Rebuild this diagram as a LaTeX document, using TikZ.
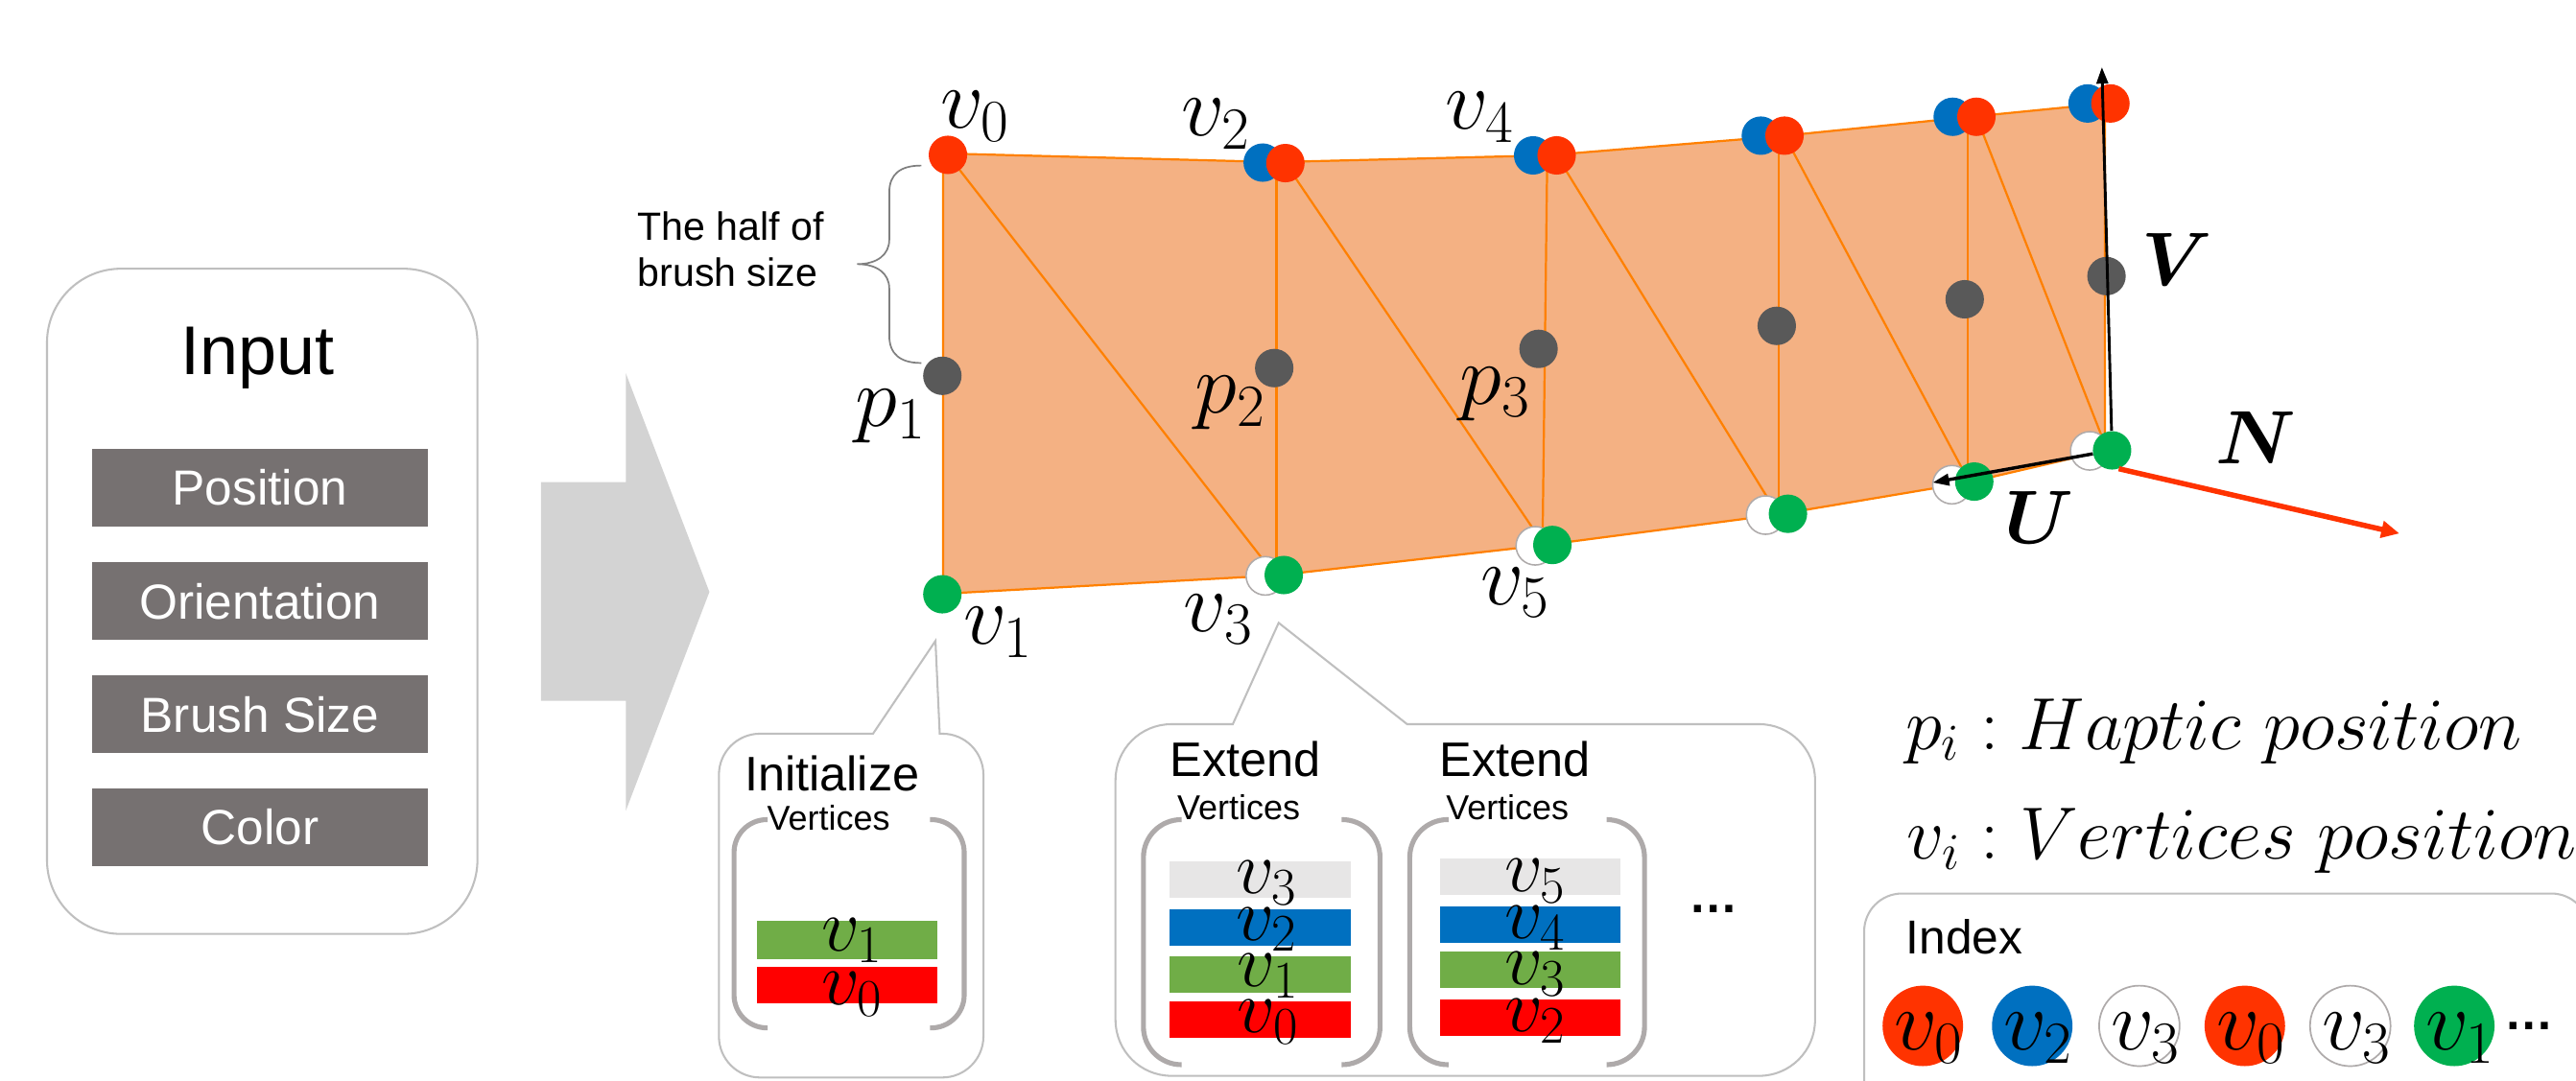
\RequirePackage{fix-cm}
\documentclass[tikz,border=0pt]{standalone}
\usepackage{amsmath}
\usepackage{fontspec}
\newfontfamily\arial{Liberation Sans}
\usetikzlibrary{arrows.meta}
\definecolor{cRed}{HTML}{FF3300}
\definecolor{cBlue}{HTML}{0070C0}
\definecolor{cGreen}{HTML}{00B050}
\definecolor{cGray}{HTML}{595959}
\definecolor{cWEdge}{HTML}{AFABAB}
\definecolor{cMesh}{HTML}{F4B183}
\definecolor{cOrange}{HTML}{FF8000}
\definecolor{cBar}{HTML}{767171}
\definecolor{cArrow}{HTML}{D3D3D3}
\definecolor{cBox}{HTML}{BFBFBF}
\definecolor{cBracket}{HTML}{AEAAAA}
\definecolor{cBrace}{HTML}{7F7F7F}
\definecolor{sGreen}{HTML}{70AD47}
\definecolor{sRed}{HTML}{FF0000}
\definecolor{sBlue}{HTML}{0070C0}
\definecolor{sGray}{HTML}{E7E6E6}
\begin{document}
\begin{tikzpicture}[x=1pt,y=-1pt,
  vdot/.style={circle,inner sep=0pt,minimum size=23.4pt},
  rdot/.style={vdot,fill=cRed},
  bdot/.style={vdot,fill=cBlue},
  gdot/.style={vdot,fill=cGreen},
  kdot/.style={vdot,fill=cGray},
  wdot/.style={vdot,fill=white,draw=cWEdge,line width=0.9pt},
  meshline/.style={draw=cOrange,line width=1.3pt,line join=round},
  mlbl/.style={inner sep=0pt,anchor=base west,font=\fontsize{52}{54}\selectfont},
  slbl/.style={inner sep=0pt,anchor=base west,font=\fontsize{46}{48}\selectfont},
  blbl/.style={inner sep=0pt,anchor=base west,font=\fontsize{46}{48}\selectfont},
  sanslbl/.style={inner sep=0pt,anchor=base west},
  inbar/.style={fill=cBar,text=white,inner sep=0pt,minimum width=204.4pt,minimum height=47.5pt,font=\arial\fontsize{30}{32}\selectfont},
  sbar/.style={inner sep=0pt,minimum width=110pt,minimum height=22.4pt},
  bubble/.style={draw=cBox,line width=1.2pt,fill=white},
  bracket/.style={draw=cBracket,line width=3pt},
  vec/.style={line width=1.7pt,-{Triangle[length=10pt,width=7pt]}},
  icirc/.style={circle,inner sep=0pt,minimum size=49pt},
  dotsl/.style={inner sep=0pt,font=\arial\bfseries\fontsize{30}{32}\selectfont},
]
\fill[white] (0,0) rectangle (1568,658);
\useasboundingbox (0,0) rectangle (1568,658);
\clip (0,0) rectangle (1568,658);

% ---------- Input box ----------
\node[draw=cBox,line width=1.2pt,rounded corners=45pt,minimum width=262pt,minimum height=405pt,anchor=north west,inner sep=0pt] (inbox) at (28,163) {};
\node[inner sep=0pt,anchor=base,font=\arial\fontsize{42}{44}\selectfont] (intitle) at (157,227.8) {Input};
\node[inbar] (bpos) at (158.2,297) {Position};
\node[inbar] (bori) at (158.2,366) {Orientation};
\node[inbar] (bbru) at (158.2,434.9) {Brush Size};
\node[inbar] (bcol) at (158.2,503.5) {Color};

% ---------- big arrow ----------
\fill[cArrow] (329.3,293.5) -- (380.9,293.5) -- (380.9,227.2) -- (431.8,360.4) -- (380.9,493.7) -- (380.9,426.7) -- (329.3,426.7) -- cycle;

% ---------- brace ----------
\node[sanslbl,font=\arial\fontsize{24}{26}\selectfont] (half1) at (388,146) {The half of};
\node[sanslbl,font=\arial\fontsize{24}{26}\selectfont] (half2) at (388,174.5) {brush size};
\draw[cBrace,line width=1pt] (560.8,100.8) .. controls (548,100.8) and (541.3,106) .. (541.3,117.2) -- (541.3,145.9) .. controls (541.3,155) and (534,160.8) .. (521.7,160.8) .. controls (534,160.8) and (541.3,166.6) .. (541.3,175.7) -- (541.3,204.4) .. controls (541.3,215.6) and (548,221) .. (560.8,221);

% ---------- mesh coordinates ----------
\coordinate (T0) at (574,93.4);
\coordinate (T1) at (777,98.7);
\coordinate (T2) at (941.8,94.6);
\coordinate (T3) at (1082.5,83);
\coordinate (T4) at (1197.8,71.3);
\coordinate (T5) at (1281.2,63);
\coordinate (L0) at (574,361.5);
\coordinate (L1) at (777,350.3);
\coordinate (L2) at (938.9,332);
\coordinate (L3) at (1082.5,313.2);
\coordinate (L4) at (1197.8,293.8);
\coordinate (L5) at (1281.2,274.4);
\coordinate (cR0) at (577,94.3);
\coordinate (cR2) at (782.4,99.3);
\coordinate (cR4) at (947.5,94.6);
\coordinate (cR6) at (1086.2,82.6);
\coordinate (cR8) at (1203,71.1);
\coordinate (cR10) at (1284.6,63);
\coordinate (E1) at (776,350);
\coordinate (E2) at (940,332);
\coordinate (E3) at (1082,313);
\coordinate (E4) at (1199,294);
\coordinate (E5) at (1283,275);

\fill[cMesh] (T0) -- (T1) -- (T2) -- (T3) -- (T4) -- (T5) -- (L5) -- (L4) -- (L3) -- (L2) -- (L1) -- (L0) -- cycle;
\draw[meshline] (T0) -- (T1) -- (T2) -- (T3) -- (T4) -- (T5) -- (L5) -- (L4) -- (L3) -- (L2) -- (L1) -- (L0) -- cycle;
\draw[meshline] (T1) -- (L1);
\draw[meshline] (T2) -- (L2);
\draw[meshline] (T3) -- (L3);
\draw[meshline] (T4) -- (L4);
\draw[meshline] (cR0) -- (E1);
\draw[meshline] (cR2) -- (E2);
\draw[meshline] (cR4) -- (E3);
\draw[meshline] (cR6) -- (E4);
\draw[meshline] (cR8) -- (E5);

% ---------- dots ----------
\node[bdot] (B2) at (768.6,99) {};
\node[bdot] (B4) at (933.2,94.6) {};
\node[bdot] (B6) at (1071.8,82.6) {};
\node[bdot] (B8) at (1188.6,71.1) {};
\node[bdot] (B10) at (1270.7,63) {};
\node[rdot] (R0) at (cR0) {};
\node[rdot] (R2) at (cR2) {};
\node[rdot] (R4) at (cR4) {};
\node[rdot] (R6) at (cR6) {};
\node[rdot] (R8) at (cR8) {};
\node[rdot] (R10) at (cR10) {};
\node[wdot] (W3) at (770.2,350.6) {};
\node[wdot] (W5) at (934.5,332.3) {};
\node[wdot] (W7) at (1074.7,313.6) {};
\node[wdot] (W9) at (1188.1,295.1) {};
\node[wdot] (W11) at (1272,274.5) {};
\node[gdot] (G1) at (573.6,361.8) {};
\node[gdot] (G3) at (781.4,350.1) {};
\node[gdot] (G5) at (944.9,331.8) {};
\node[gdot] (G7) at (1088.3,312.8) {};
\node[gdot] (G9) at (1201.7,293.2) {};
\node[gdot] (G11) at (1285.6,274.2) {};
\node[kdot] (P1) at (573.6,228.8) {};
\node[kdot] (P2) at (775.6,224.1) {};
\node[kdot] (P3) at (936.5,212.4) {};
\node[kdot] (P4) at (1081.5,198.4) {};
\node[kdot] (P5) at (1195.9,182.2) {};
\node[kdot] (P6) at (1282.2,168.1) {};

% ---------- U V N vectors ----------
\coordinate (Vtip) at (1279.4,40.9);
\coordinate (Utip) at (1176.4,293.8);
\coordinate (Ntip) at (1460.5,324.8);
\draw[vec] (G11) -- (Vtip);
\draw[vec,line width=2pt] (G11) -- (Utip);
\draw[cRed,line width=3.2pt,-{Triangle[length=11pt,width=10pt]}] (G11.-70) -- (Ntip);

% ---------- mesh labels ----------
\node[mlbl] (lv0) at (572.5,78.1) {$v_0$};
\node[mlbl] (lv2) at (719,82.8) {$v_2$};
\node[mlbl] (lv4) at (879.5,78.7) {$v_4$};
\node[mlbl] (lp1) at (520.5,259.3) {$p_1$};
\node[mlbl] (lp2) at (727,251.5) {$p_2$};
\node[mlbl] (lp3) at (888.5,246) {$p_3$};
\node[mlbl] (lv1) at (586.2,392.3) {$v_1$};
\node[mlbl] (lv3) at (720.4,384.5) {$v_3$};
\node[mlbl] (lv5) at (901.3,368) {$v_5$};
\node[blbl] (lV) at (1303.8,174) {$\boldsymbol{V}$};
\node[blbl] (lN) at (1348.4,282.4) {$\boldsymbol{N}$};
\node[blbl] (lU) at (1219.9,331) {$\boldsymbol{U}$};

% ---------- Initialize bubble ----------
\draw[bubble] (531.4,446.7) -- (569.4,390.2) -- (572,446.7) -- (573.6,446.7) .. controls (587.4,446.7) and (598.6,457.9) .. (598.6,471.7) -- (598.6,631) .. controls (598.6,644.8) and (587.4,656) .. (573.6,656) -- (462.6,656) .. controls (448.8,656) and (437.6,644.8) .. (437.6,631) -- (437.6,471.7) .. controls (437.6,457.9) and (448.8,446.7) .. (462.6,446.7) -- cycle;
\node[sanslbl,font=\arial\fontsize{29.5}{31}\selectfont] (tinit) at (453,481.2) {Initialize};
\node[sanslbl,font=\arial\fontsize{21}{23}\selectfont] (tiv) at (466.8,505.5) {Vertices};
\draw[bracket,rounded corners=20pt] (467.2,499) -- (446.8,499) -- (446.8,625.8) -- (467.2,625.8);
\draw[bracket,rounded corners=20pt] (566.1,499) -- (586.9,499) -- (586.9,625.8) -- (566.1,625.8);
\node[sbar,fill=sGreen,minimum height=23.3pt] (ib1) at (515.65,572.25) {};
\node[sbar,fill=sRed,minimum height=22.2pt] (ib0) at (515.65,599.7) {};
\node[slbl] (il1) at (500,579) {$v_1$};
\node[slbl] (il0) at (500,612) {$v_0$};

% ---------- Extend bubble ----------
\draw[bubble] (750.4,440.9) -- (778.3,379.2) -- (856.5,440.9) -- (1070.8,440.9) .. controls (1089.6,440.9) and (1104.8,456.1) .. (1104.8,474.9) -- (1104.8,621) .. controls (1104.8,639.8) and (1089.6,655) .. (1070.8,655) -- (713,655) .. controls (694.2,655) and (679,639.8) .. (679,621) -- (679,474.9) .. controls (679,456.1) and (694.2,440.9) .. (713,440.9) -- cycle;
\node[sanslbl,font=\arial\fontsize{29.5}{31}\selectfont] (text1) at (712,473) {Extend};
\node[sanslbl,font=\arial\fontsize{21}{23}\selectfont] (tev1) at (716.4,499.3) {Vertices};
\node[sanslbl,font=\arial\fontsize{29.5}{31}\selectfont] (text2) at (876,473) {Extend};
\node[sanslbl,font=\arial\fontsize{21}{23}\selectfont] (tev2) at (880,499.3) {Vertices};
\draw[bracket,rounded corners=23pt] (719.3,499) -- (696,499) -- (696,648.2) -- (719.3,648.2);
\draw[bracket,rounded corners=23pt] (816.6,499) -- (840,499) -- (840,648.2) -- (816.6,648.2);
\draw[bracket,rounded corners=23pt] (881.8,499) -- (858.1,499) -- (858.1,648.2) -- (881.8,648.2);
\draw[bracket,rounded corners=23pt] (979,499) -- (1001,499) -- (1001,648.2) -- (979,648.2);
\node[sbar,fill=sGray] (e13) at (767,535.4) {};
\node[sbar,fill=sBlue] (e12) at (767,564.7) {};
\node[sbar,fill=sGreen] (e11) at (767,593.2) {};
\node[sbar,fill=sRed] (e10) at (767,620.6) {};
\node[slbl] (el13) at (752,544) {$v_3$};
\node[slbl] (el12) at (752,572.3) {$v_2$};
\node[slbl] (el11) at (753,600.5) {$v_1$};
\node[slbl] (el10) at (753,628.7) {$v_0$};
\node[sbar,fill=sGray] (e25) at (931.5,533.7) {};
\node[sbar,fill=sBlue] (e24) at (931.5,562.9) {};
\node[sbar,fill=sGreen] (e23) at (931.5,590.4) {};
\node[sbar,fill=sRed] (e22) at (931.5,619.6) {};
\node[slbl] (el25) at (915.5,543) {$v_5$};
\node[slbl] (el24) at (915.5,571.5) {$v_4$};
\node[slbl] (el23) at (915.5,599.5) {$v_3$};
\node[slbl] (el22) at (915.5,628) {$v_2$};
\node[dotsl] (edots) at (1043,553.7) {…};

% ---------- legend ----------
\node[inner sep=0pt,anchor=base west,font=\fontsize{45}{47}\selectfont] (leg1) at (1159.6,456.2) {$p_i : Haptic\ position$};
\node[inner sep=0pt,anchor=base west,font=\fontsize{45}{47}\selectfont] (leg2) at (1160.6,522.8) {$v_i : Vertices\ position$};
\draw[draw=cBox,line width=1.2pt,fill=white] (1157.7,544) -- (1553,544) .. controls (1565.7,544) and (1576,554.3) .. (1576,567) -- (1576,690) -- (1134.7,690) -- (1134.7,567) .. controls (1134.7,554.3) and (1145,544) .. (1157.7,544) -- cycle;
\node[sanslbl,font=\arial\fontsize{29}{31}\selectfont] (tindex) at (1160,580.6) {Index};
\node[icirc,fill=cRed] (ic1) at (1170.4,624.6) {};
\node[icirc,fill=cBlue] (ic2) at (1237,624.6) {};
\node[icirc,fill=white,draw=cWEdge,line width=1pt] (ic3) at (1302.2,624.6) {};
\node[icirc,fill=cRed] (ic4) at (1366.4,624.6) {};
\node[icirc,fill=white,draw=cWEdge,line width=1pt] (ic5) at (1430.6,624.6) {};
\node[icirc,fill=cGreen] (ic6) at (1493.9,624.6) {};
\node[mlbl] (il1x) at (1153,639.3) {$v_0$};
\node[mlbl] (il2x) at (1219.6,639.3) {$v_2$};
\node[mlbl] (il3x) at (1284.8,639.3) {$v_3$};
\node[mlbl] (il4x) at (1349,639.3) {$v_0$};
\node[mlbl] (il5x) at (1413.2,639.3) {$v_3$};
\node[mlbl] (il6x) at (1476.5,639.3) {$v_1$};
\node[dotsl] (idots) at (1539.5,624.6) {…};
\end{tikzpicture}
\end{document}
